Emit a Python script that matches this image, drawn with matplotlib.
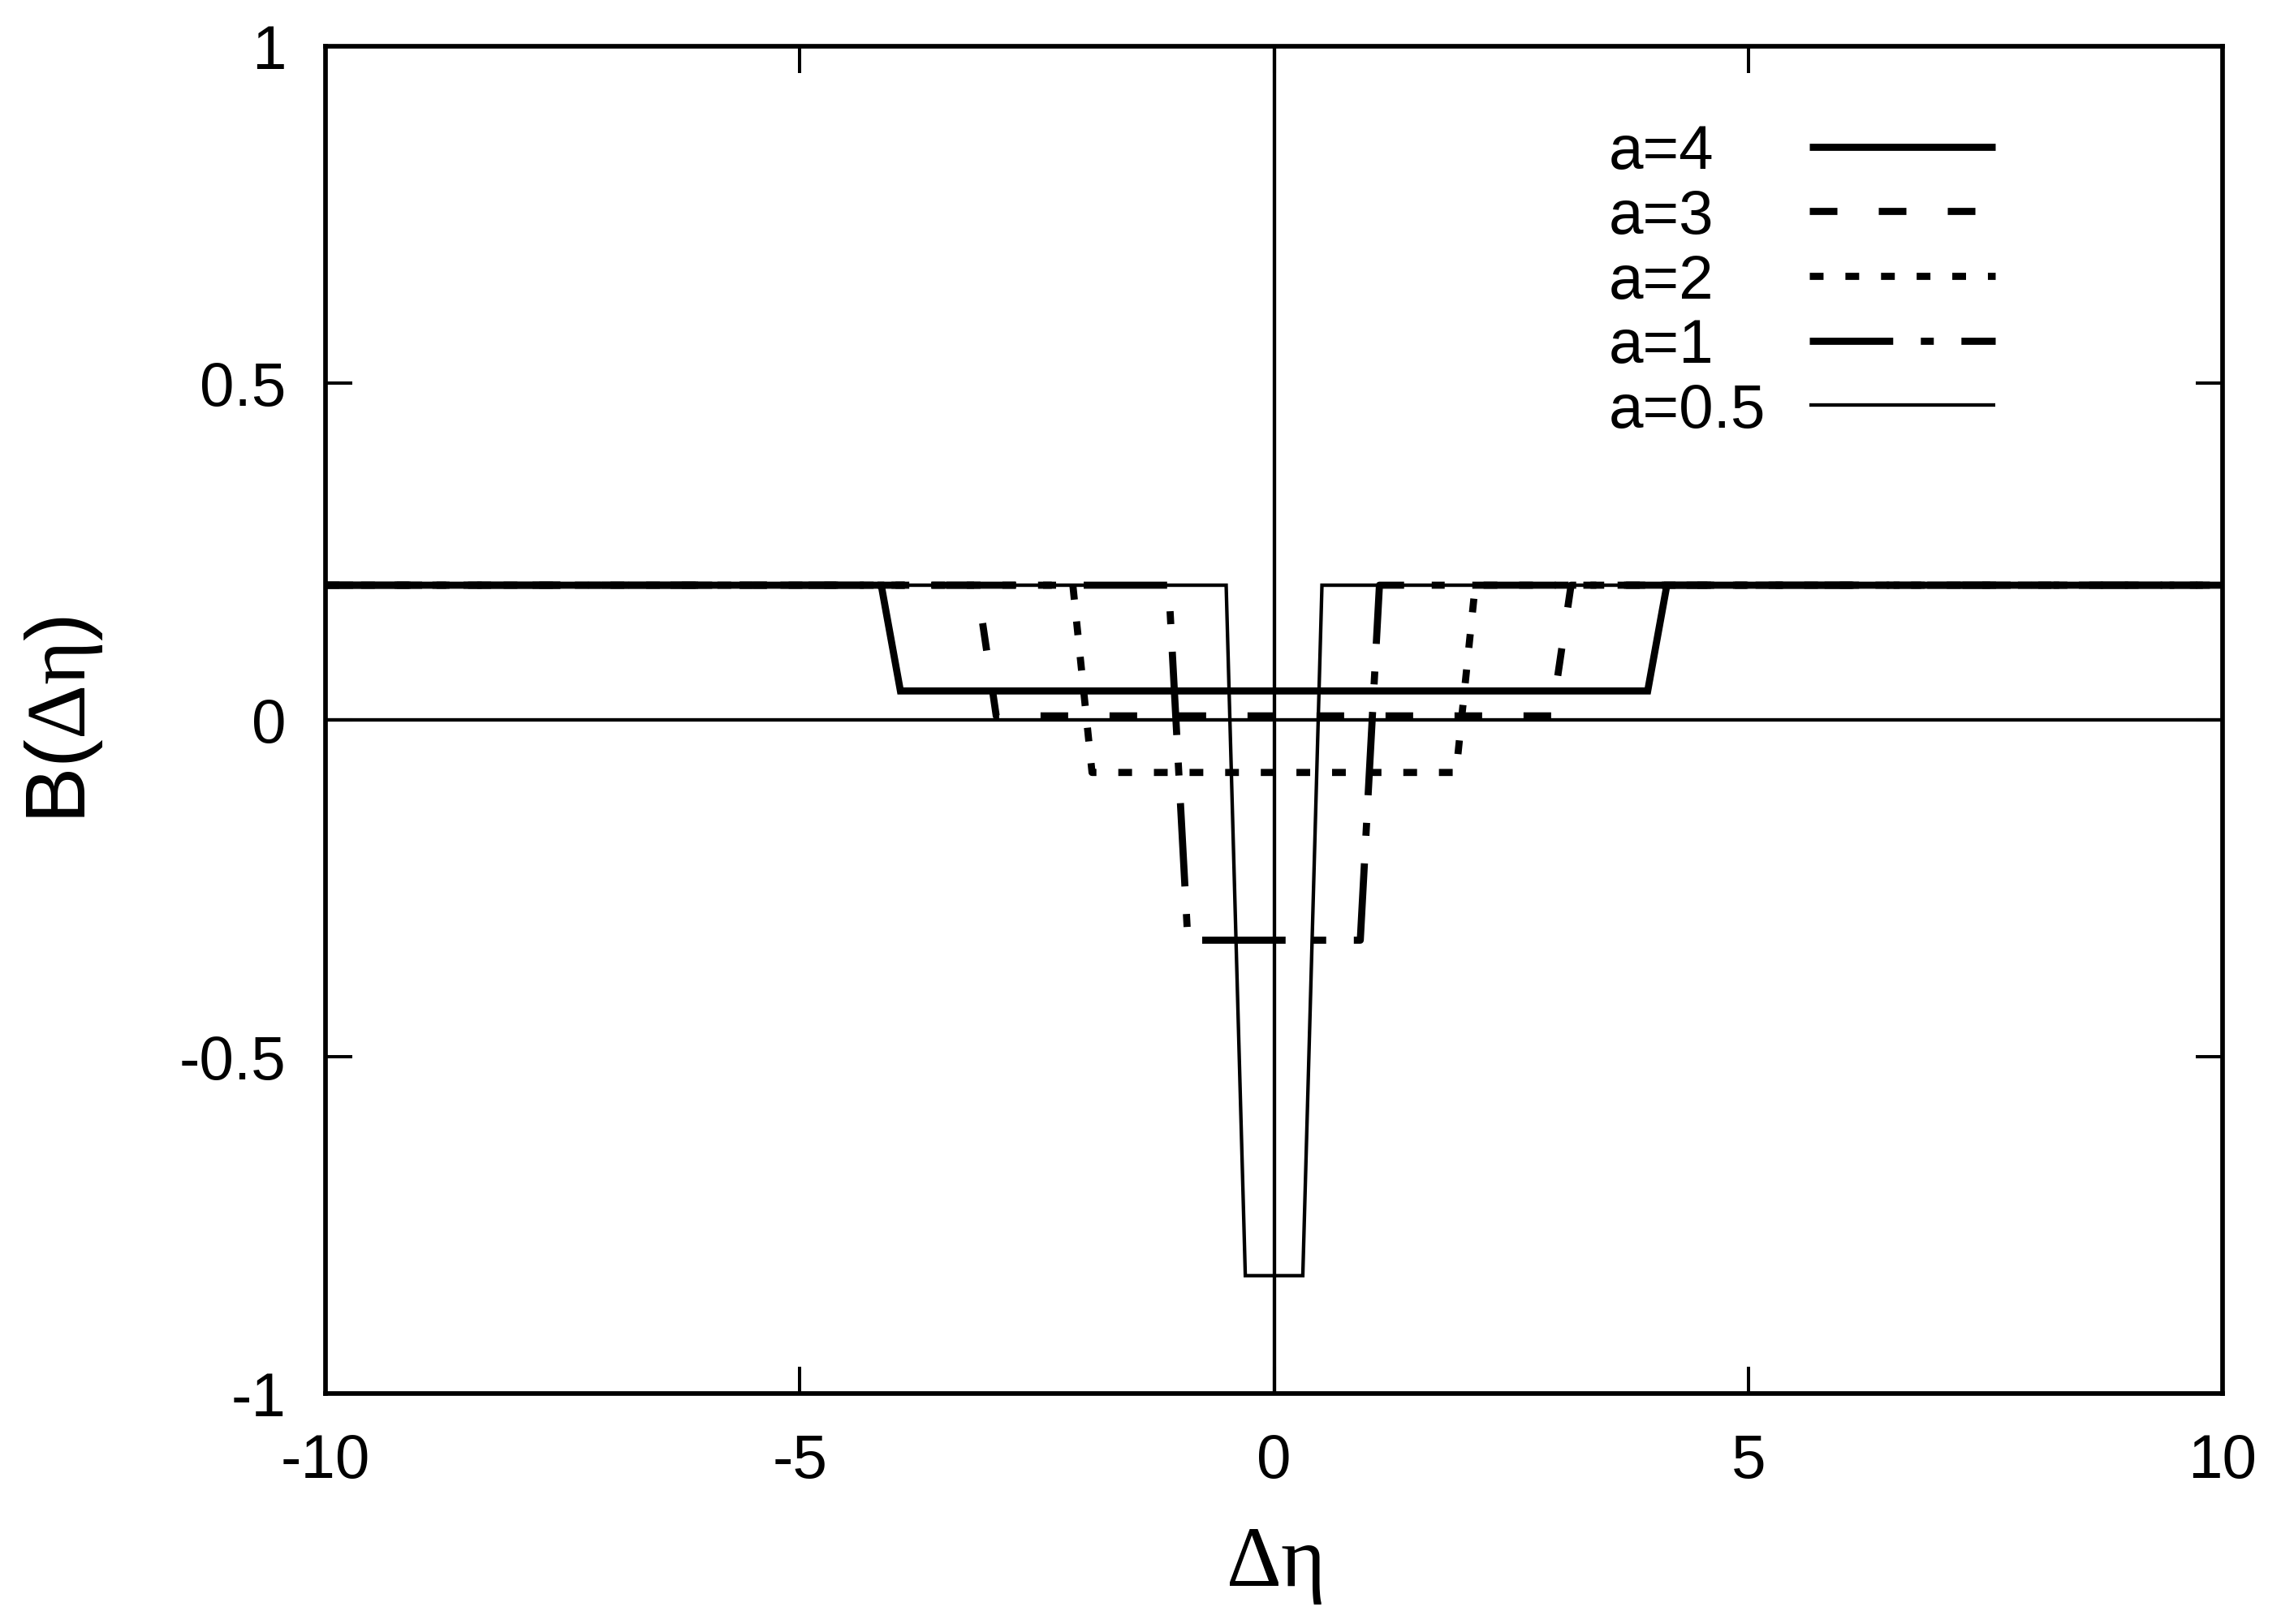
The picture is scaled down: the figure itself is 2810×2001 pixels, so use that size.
import matplotlib
matplotlib.use("Agg")
import matplotlib.pyplot as plt

plt.rcParams['font.family'] = ['Liberation Sans', 'DejaVu Sans']
plt.rcParams['mathtext.fontset'] = 'custom'
plt.rcParams['mathtext.rm'] = 'Liberation Serif'
plt.rcParams['mathtext.it'] = 'Liberation Serif:italic'
plt.rcParams['axes.unicode_minus'] = False
plt.rcParams['lines.scale_dashes'] = False

# curve vertices (gnuplot samples, step function in |x|)
labels = ['a=4', 'a=3', 'a=2', 'a=1', 'a=0.5']
x_a4 = [-10, -4.141, -3.939, 3.939, 4.141, 10]
y_a4 = [0.2, 0.2, 0.043, 0.043, 0.2, 0.2]
x_a3 = [-10, -3.131, -2.929, 2.929, 3.131, 10]
y_a3 = [0.2, 0.2, 0.006, 0.006, 0.2, 0.2]
x_a2 = [-10, -2.121, -1.919, 1.919, 2.121, 10]
y_a2 = [0.2, 0.2, -0.078, -0.078, 0.2, 0.2]
x_a1 = [-10, -1.111, -0.909, 0.909, 1.111, 10]
y_a1 = [0.2, 0.2, -0.327, -0.327, 0.2, 0.2]
x_a05 = [-10, -0.505, -0.303, 0.303, 0.505, 10]
y_a05 = [0.2, 0.2, -0.825, -0.825, 0.2, 0.2]

xticks = [-10, -5, 0, 5, 10]
xtick_labels = ['-10', '-5', '0', '5', '10']
yticks = [-1, -0.5, 0, 0.5, 1]
ytick_labels = ['-1', '-0.5', '0', '0.5', '1']

series = [(x_a4, y_a4), (x_a3, y_a3), (x_a2, y_a2), (x_a1, y_a1), (x_a05, y_a05)]
styles = [
    dict(lw=6.3, ls='-'),
    dict(lw=6.3, ls=(0, (24.5, 36.7))),
    dict(lw=6.3, ls=(0, (12.2, 19.4))),
    dict(lw=6.3, ls=(0, (74, 24.5, 11.5, 24.5))),
    dict(lw=3.1, ls='-'),
]

fig = plt.figure(figsize=(28.1, 20.01), dpi=100)
ax = fig.add_axes([0.1427, 0.1419, 0.8317, 0.8296])

ax.axhline(0, color='black', lw=3.1, zorder=1)
ax.axvline(0, color='black', lw=3.1, zorder=1)

for (xs, ys), st in zip(series, styles):
    ax.plot(xs, ys, color='black', solid_capstyle='butt', dash_capstyle='butt',
            solid_joinstyle='miter', zorder=2, **st)

ax.set_xlim(-10, 10)
ax.set_ylim(-1, 1)
ax.set_xticks(xticks)
ax.set_xticklabels(xtick_labels)
ax.set_yticks(yticks)
ax.set_yticklabels(ytick_labels)
ax.tick_params(direction='in', length=24, width=2.9, top=True, right=True,
               labelsize=55, pad=35)
for sp in ax.spines.values():
    sp.set_linewidth(4.1)

ax.set_xlabel(r'$\mathrm{\Delta\eta}$', fontsize=76)
ax.xaxis.set_label_coords(0.5, -0.098)
ax.set_ylabel(r'B($\mathrm{\Delta\eta}$)', fontsize=75)
ax.yaxis.set_label_coords(-0.1164, 0.5)

# key: text on the left, sample on the right
key_text_x = 0.6765
key_x0, key_x1 = 0.7822, 0.8802
key_y0 = 0.9255
key_step = 0.048
for i, (lab, st) in enumerate(zip(labels, styles)):
    ky = key_y0 - i * key_step
    ax.plot([key_x0, key_x1], [ky, ky], transform=ax.transAxes, color='black',
            solid_capstyle='butt', dash_capstyle='butt', **st)
    ax.text(key_text_x, ky - 0.01663, lab, transform=ax.transAxes,
            fontsize=55, ha='left', va='baseline')

fig.savefig('out.png', dpi=100)
